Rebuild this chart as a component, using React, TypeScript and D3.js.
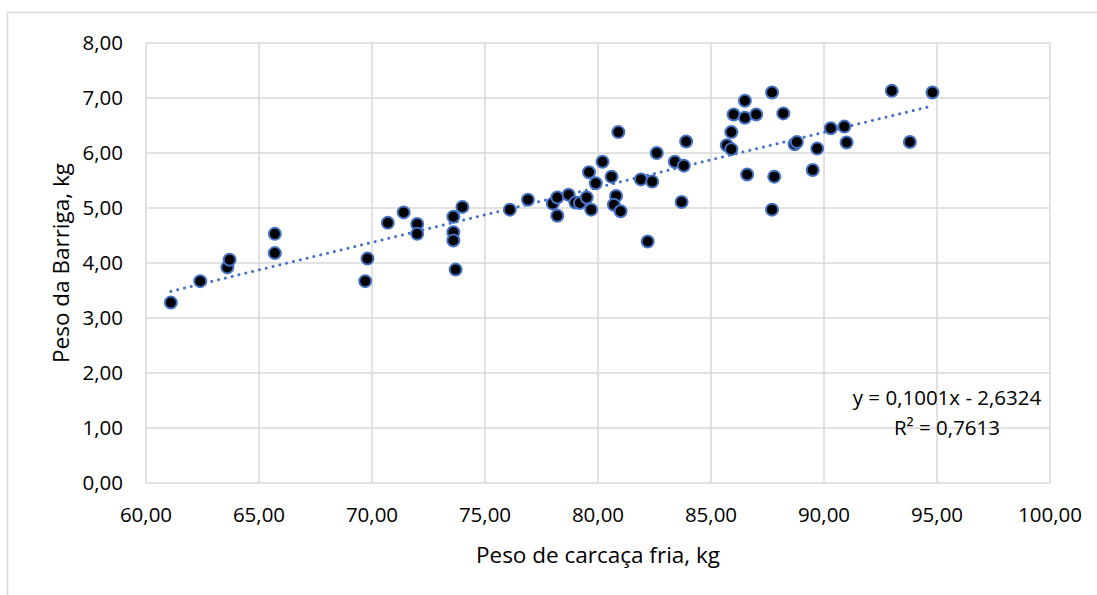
import * as d3 from "d3";

// Peso de carcaça fria (kg) vs Peso da Barriga (kg)
const carcassWeights = [
  61.1, 62.4, 63.6, 63.7, 65.7, 65.7, 69.7, 69.8, 70.7, 71.4, 72.0, 72.0, 73.6,
  73.6, 73.6, 73.7, 74.0, 76.1, 76.9, 78.0, 78.2, 78.2, 78.7, 79.0, 79.2, 79.5,
  79.7, 79.6, 79.9, 80.2, 80.6, 80.8, 80.7, 81.0, 80.9, 81.9, 82.4, 82.2, 82.6,
  83.4, 83.8, 83.9, 83.7, 85.7, 85.9, 85.9, 86.0, 86.5, 86.5, 87.0, 87.7, 88.2,
  86.6, 87.8, 87.7, 88.7, 88.8, 89.5, 89.7, 90.3, 90.9, 91.0, 93.0, 93.8, 94.8,
];
const bellyWeights = [
  3.28, 3.67, 3.92, 4.06, 4.53, 4.18, 3.67, 4.08, 4.73, 4.92, 4.71, 4.53, 4.84,
  4.56, 4.41, 3.88, 5.02, 4.97, 5.15, 5.08, 5.19, 4.86, 5.24, 5.1, 5.09, 5.19,
  4.97, 5.65, 5.45, 5.84, 5.57, 5.22, 5.06, 4.94, 6.38, 5.52, 5.48, 4.39, 6.0,
  5.84, 5.77, 6.21, 5.11, 6.14, 6.38, 6.07, 6.7, 6.95, 6.64, 6.7, 7.1, 6.72,
  5.61, 5.57, 4.97, 6.16, 6.2, 5.69, 6.08, 6.45, 6.48, 6.19, 7.13, 6.2, 7.1,
];

const xTicks = [60, 65, 70, 75, 80, 85, 90, 95, 100];
const yTicks = [0, 1, 2, 3, 4, 5, 6, 7, 8];

const trendSlope = 0.1001;
const trendIntercept = -2.6324;
const equationLines = ["y = 0,1001x - 2,6324", "R² = 0,7613"];

const xTitle = "Peso de carcaça fria, kg";
const yTitle = "Peso da Barriga, kg";

const width = 1097;
const height = 595;
const plotLeft = 146;
const plotRight = 1050;
const plotTop = 43;
const plotBottom = 483;

const font = "'Open Sans', Lato, sans-serif";
const gridColor = "#d9d9d9";
const blue = "#4472C4";

const fmt = (v: number) => d3.format(".2f")(v).replace(".", ",");

export default function App() {
  const x = d3.scaleLinear().domain([60, 100]).range([plotLeft, plotRight]);
  const y = d3.scaleLinear().domain([0, 8]).range([plotBottom, plotTop]);

  const points = carcassWeights.map((cw, i) => ({ cw, bw: bellyWeights[i] }));
  const xMin = d3.min(carcassWeights) as number;
  const xMax = d3.max(carcassWeights) as number;
  const trendLine = d3
    .line<number>()
    .x((d) => x(d))
    .y((d) => y(trendSlope * d + trendIntercept));

  return (
    <svg
      width={width}
      height={height}
      style={{ position: "absolute", left: 0, top: 0, background: "#fff" }}
      fontFamily={font}
    >
      <rect x={0} y={0} width={width} height={height} fill="#fff" />
      {/* chart area border, only top and left show */}
      <path
        d={`M7.5,${height} V12.5 H${width}`}
        fill="none"
        stroke={gridColor}
        strokeWidth={1.5}
      />

      {/* gridlines */}
      {yTicks.map((t) => (
        <line
          key={"gy" + t}
          x1={plotLeft}
          x2={plotRight}
          y1={y(t)}
          y2={y(t)}
          stroke={gridColor}
          strokeWidth={1.5}
        />
      ))}
      {xTicks.map((t) => (
        <line
          key={"gx" + t}
          x1={x(t)}
          x2={x(t)}
          y1={plotTop}
          y2={plotBottom}
          stroke={gridColor}
          strokeWidth={1.5}
        />
      ))}

      {/* tick labels */}
      {yTicks.map((t) => (
        <text
          key={"ly" + t}
          x={123}
          y={y(t)}
          dy="0.35em"
          textAnchor="end"
          fontSize={20.5}
          fill="#000"
        >
          {fmt(t)}
        </text>
      ))}
      {xTicks.map((t) => (
        <text
          key={"lx" + t}
          x={x(t)}
          y={515}
          dy="0.35em"
          textAnchor="middle"
          fontSize={20.5}
          fill="#000"
        >
          {fmt(t)}
        </text>
      ))}

      {/* axis titles */}
      <text
        x={(plotLeft + plotRight) / 2}
        y={555}
        dy="0.35em"
        textAnchor="middle"
        fontSize={22.5}
        fill="#000"
      >
        {xTitle}
      </text>
      <text
        transform={`translate(61,${(plotTop + plotBottom) / 2}) rotate(-90)`}
        dy="0.35em"
        textAnchor="middle"
        fontSize={22.5}
        fill="#000"
      >
        {yTitle}
      </text>

      {/* trend line */}
      <path
        d={trendLine([xMin, xMax]) || ""}
        fill="none"
        stroke={blue}
        strokeWidth={3}
        strokeDasharray="0.01 7"
        strokeLinecap="round"
      />

      {/* points */}
      {points.map((p, i) => (
        <circle
          key={i}
          cx={x(p.cw)}
          cy={y(p.bw)}
          r={6}
          fill="#000"
          stroke={blue}
          strokeWidth={2}
        />
      ))}

      {/* equation */}
      {equationLines.map((s, i) => (
        <text
          key={s}
          x={947}
          y={398 + i * 30}
          dy="0.35em"
          textAnchor="middle"
          fontSize={20.5}
          fill="#000"
        >
          {s}
        </text>
      ))}
    </svg>
  );
}
